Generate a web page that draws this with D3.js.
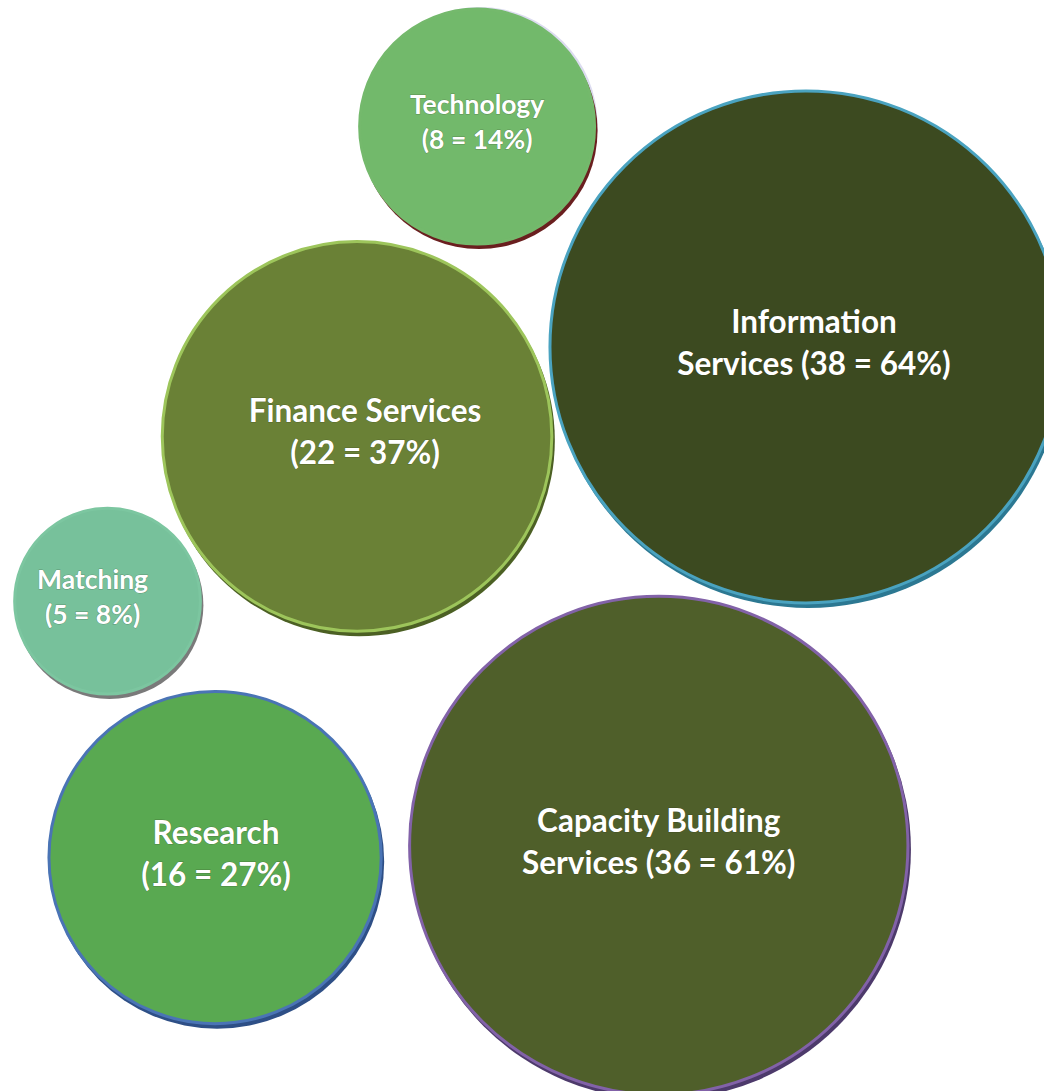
<!DOCTYPE html>
<html>
<head>
<meta charset="utf-8">
<script src="https://cdn.jsdelivr.net/npm/d3@7"></script>
<style>
  body { margin: 0; background: #fff; }
  svg { display: block; }
</style>
</head>
<body>
<svg id="chart" width="1044" height="1091"></svg>
<script>
// data
let categories = ["Technology", "Information Services", "Finance Services", "Matching", "Research", "Capacity Building Services"];
let counts = [8, 38, 22, 5, 16, 36];
let percents = [14, 64, 37, 8, 27, 61];
let labelLines = [
  ["Technology", "(8 = 14%)"],
  ["Information", "Services (38 = 64%)"],
  ["Finance Services", "(22 = 37%)"],
  ["Matching", "(5 = 8%)"],
  ["Research", "(16 = 27%)"],
  ["Capacity Building", "Services (36 = 61%)"]
];

// layout (percent of the canvas)
let layoutX = [45.7, 77.2, 34.2, 10.3, 20.6, 63.1];
let layoutY = [11.6, 31.8, 40.0, 55.1, 78.6, 77.5];
let labelDx = [0, 8, 8, -15, 1, 0];

let fills   = ["#72b96b", "#3c4a20", "#6a8136", "#77c19b", "#59a951", "#4f5f2a"];
let strokes = ["#74b96c", "#4aa3c0", "#9dc55b", "#7cc6a0", "#4a74b5", "#8262a8"];
let shadows = ["#6a1f1f", "#2c7892", "#4c6024", "#7a7a7a", "#2e4f86", "#4d3a6b"];

let width = 1044, height = 1091;
let svg = d3.select("#chart");

let xScale = d3.scaleLinear().domain([0, 100]).range([0, width]);
let yScale = d3.scaleLinear().domain([0, 100]).range([0, height]);
let rScale = d3.scaleSqrt().domain([0, 38]).range([0, 256]);
let fontScale = d3.scaleThreshold().domain([10]).range([26.5, 31.5]);

let data = categories.map((c, i) => ({
  name: c, count: counts[i], pct: percents[i], lines: labelLines[i], i: i
}));

// lavender glow seen on the top-right of the small technology bubble
svg.append("circle")
  .attr("cx", xScale(layoutX[0]) + 3)
  .attr("cy", yScale(layoutY[0]) - 2)
  .attr("r", rScale(counts[0]))
  .style("fill", "#dcdcf0");

let g = svg.selectAll(".bubble")
  .data(data)
  .enter()
  .append("g")
    .attr("class", "bubble")
    .attr("transform", d => "translate(" + xScale(layoutX[d.i]) + "," + yScale(layoutY[d.i]) + ")");

// bevel shadow
g.append("circle")
  .attr("cx", 2)
  .attr("cy", 4)
  .attr("r", d => rScale(d.count) + 1)
  .style("fill", d => shadows[d.i]);

g.append("circle")
  .attr("r", d => rScale(d.count))
  .style("fill", d => fills[d.i])
  .style("stroke", d => strokes[d.i])
  .style("stroke-width", 3);

let txt = g.append("text")
  .attr("text-anchor", "middle")
  .style("font-family", "Lato, 'Open Sans', sans-serif")
  .style("font-weight", "bold")
  .style("font-size", d => fontScale(d.count) + "px")
  .style("fill", "#ffffff")
  .style("paint-order", "stroke")
  .style("stroke", "rgba(40,40,20,0.3)")
  .style("stroke-width", 1);

txt.selectAll("tspan")
  .data(d => d.lines.map((l, k) => ({ text: l, k: k, d: d })))
  .enter()
  .append("tspan")
    .attr("x", t => labelDx[t.d.i])
    .attr("y", t => {
      let fs = fontScale(t.d.count);
      let lh = fs * 1.33;
      return (t.k - 0.5) * lh + fs * 0.35 - 4;
    })
    .text(t => t.text);
</script>
</body>
</html>
